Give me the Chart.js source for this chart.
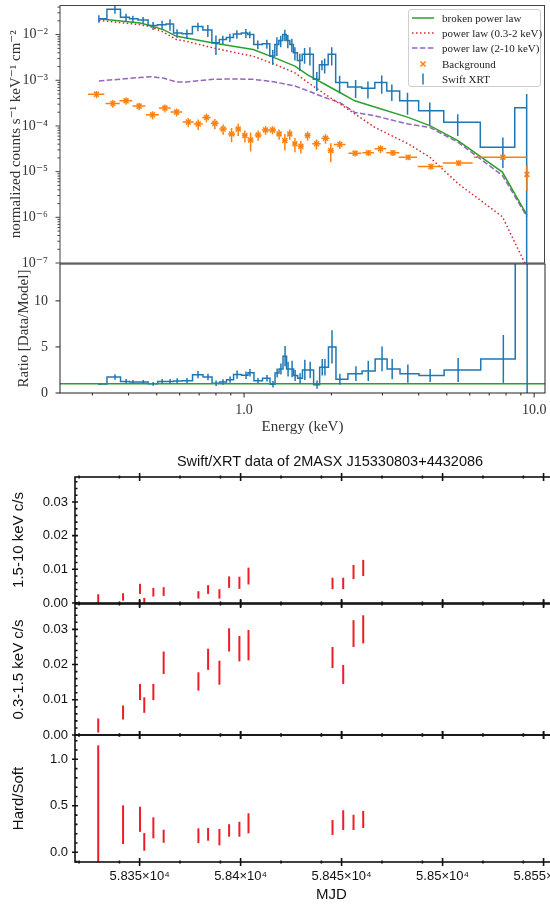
<!DOCTYPE html>
<html>
<head>
<meta charset="utf-8">
<script src="https://cdn.jsdelivr.net/npm/chart.js@4.4.1/dist/chart.umd.min.js"></script>
<style>
html, body { margin: 0; padding: 0; background: #fff; overflow: hidden; }
body { width: 550px; height: 908px; position: relative; }
canvas { position: absolute; }
#legend {
    position: absolute; left: 408px; top: 9px; width: 133px; height: 78px;
    border: 1px solid #cfcfcf; border-radius: 3px; background: rgba(255,255,255,0.85);
    font: 11px "Liberation Serif", "DejaVu Serif", serif; color: #222; box-sizing: border-box;
}
#legend .row { height: 15.3px; display: flex; align-items: center; white-space: nowrap; }
#legend svg { flex: none; }
#lcTitle {
    position: absolute; left: 0; top: 453px; width: 660px; text-align: center;
    font: 14.5px "Liberation Sans", Arial, sans-serif; color: #111;
}
</style>
</head>
<body>
<canvas id="spec" width="550" height="272" style="left:0;top:0"></canvas>
<canvas id="ratio" width="550" height="190" style="left:0;top:256px"></canvas>
<div id="legend"></div>
<div id="lcTitle">Swift/XRT data of 2MASX J15330803+4432086</div>
<canvas id="lc1" width="600" height="140" style="left:0;top:470px"></canvas>
<canvas id="lc2" width="600" height="145" style="left:0;top:597px"></canvas>
<canvas id="lc3" width="600" height="180" style="left:0;top:728px"></canvas>
<script>
// ---- spectrum (Swift XRT) ----
const xrtEnergy = [0.316, 0.359, 0.392, 0.414, 0.449, 0.486, 0.522, 0.556, 0.588, 0.636,
    0.694, 0.751, 0.801, 0.846, 0.895, 0.946, 1.016, 1.048, 1.117, 1.20,
    1.258, 1.30, 1.34, 1.385, 1.418, 1.464, 1.50, 1.56, 1.62, 1.69,
    1.785, 1.86, 1.90, 2.01, 2.14, 2.43, 2.68, 2.99, 3.24, 3.67,
    4.38, 5.47, 7.83, 9.46];
const xrtFlux = [0.0223, 0.036, 0.0241, 0.0223, 0.0208, 0.0158, 0.0165, 0.0170, 0.0108, 0.0105,
    0.015, 0.0126, 0.0066, 0.0078, 0.0087, 0.0103, 0.0108, 0.0100, 0.0061, 0.0063,
    0.0034, 0.0061, 0.0074, 0.0100, 0.0074, 0.0061, 0.0040, 0.0027, 0.0037, 0.0037,
    0.00105, 0.0022, 0.0022, 0.0037, 0.00089, 0.00071, 0.00067, 0.00089, 0.00058, 0.000355,
    0.000215, 0.00012, 0.000034, 0.00025];
const xrtErr = [0.0042, 0.0073, 0.0046, 0.0036, 0.0034, 0.0031, 0.0035, 0.0048, 0.0023, 0.0024,
    0.0031, 0.0037, 0.003, 0.0016, 0.0018, 0.0022, 0.0025, 0.0017, 0.0013, 0.0014,
    0.0012, 0.0027, 0.0021, 0.0028, 0.0024, 0.002, 0.0013, 0.0011, 0.0014, 0.0016,
    0.00047, 0.00055, 0.0008, 0.0016, 0.00037, 0.0003, 0.00027, 0.00038, 0.00023, 0.00018,
    0.00011, 0.00006, 0.000022, 0.00025];
const ratioVal = [0.98, 1.74, 1.26, 1.2, 1.2, 1.0, 1.26, 1.26, 1.3, 1.34,
    1.99, 1.74, 1.05, 1.2, 1.45, 2.0, 1.93, 2.2, 1.34, 1.6,
    0.95, 2.17, 2.6, 4.0, 2.6, 2.6, 1.9, 1.6, 2.5, 2.5,
    0.9, 2.8, 2.8, 5.0, 1.5, 2.1, 2.4, 3.7, 2.6, 2.1,
    1.9, 2.5, 3.7, 230];
const ratioErr = [0.1, 0.3, 0.25, 0.2, 0.2, 0.2, 0.25, 0.25, 0.3, 0.3,
    0.4, 0.35, 0.3, 0.3, 0.35, 0.45, 0.4, 0.4, 0.3, 0.35,
    0.35, 0.5, 0.6, 1.1, 0.8, 0.9, 0.6, 0.55, 1.1, 0.9,
    0.45, 0.9, 0.9, 1.8, 0.6, 0.8, 1.1, 1.35, 1.1, 1.0,
    0.7, 1.3, 2.6, 230];

const bgEnergy = [0.31, 0.353, 0.392, 0.435, 0.484, 0.534, 0.586, 0.643, 0.696, 0.743,
    0.794, 0.848, 0.907, 0.956, 1.008, 1.055, 1.12, 1.188, 1.256, 1.323,
    1.385, 1.44, 1.50, 1.573, 1.659, 1.781, 1.913, 1.995, 2.143, 2.42,
    2.69, 2.96, 3.27, 3.69, 4.42, 5.51, 7.83, 9.48];
const bgFlux = [4.96e-4, 3.10e-4, 3.55e-4, 2.72e-4, 1.76e-4, 2.46e-4, 2.01e-4, 1.22e-4, 1.10e-4, 1.54e-4,
    1.14e-4, 8.6e-5, 6.7e-5, 8.6e-5, 6.15e-5, 4.96e-5, 6.37e-5, 8.2e-5, 8.2e-5, 6.7e-5,
    4.8e-5, 6.7e-5, 4.07e-5, 3.6e-5, 6.15e-5, 4.07e-5, 5.37e-5, 2.9e-5, 3.92e-5, 2.54e-5,
    2.59e-5, 3.16e-5, 2.59e-5, 2.07e-5, 1.30e-5, 1.54e-5, 2.07e-5, 8.7e-6];
const bgErr = [9e-5, 6e-5, 6.5e-5, 5e-5, 3.5e-5, 5e-5, 4e-5, 2.7e-5, 2.8e-5, 3.4e-5,
    2.9e-5, 2.2e-5, 2.3e-5, 2.6e-5, 1.8e-5, 2.2e-5, 1.6e-5, 1.8e-5, 1.6e-5, 1.7e-5,
    1.9e-5, 1.7e-5, 1.4e-5, 1.1e-5, 1.4e-5, 1e-5, 1.3e-5, 1.3e-5, 8e-6, 4e-6,
    4e-6, 6e-6, 4e-6, 3e-6, 2e-6, 2.3e-6, 2e-6, 5e-6];
const bgWidth = [0.02, 0.02, 0.02, 0.022, 0.025, 0.025, 0.027, 0.028, 0.025, 0.025,
    0.025, 0.025, 0.025, 0.022, 0.022, 0.025, 0.03, 0.035, 0.035, 0.03,
    0.03, 0.03, 0.03, 0.035, 0.04, 0.06, 0.06, 0.05, 0.1, 0.125,
    0.125, 0.135, 0.17, 0.27, 0.44, 0.65, 1.62, 0];

const modelEnergy = [0.316, 0.438, 0.474, 0.527, 0.586, 0.634, 0.784, 0.919, 1.077, 1.279,
    1.50, 1.666, 1.903, 2.143, 2.414, 2.83, 3.69, 4.38, 5.48, 7.80, 9.48];
const modelBroken = [0.0223, 0.0179, 0.0159, 0.01285, 0.00918, 0.00844, 0.00656, 0.00557, 0.00472, 0.0031,
    0.00205, 0.0013, 0.00082, 0.00054, 0.000355, 0.00026, 0.000154, 0.000102, 4.8e-5, 9.8e-6, 1.12e-6];
const modelSoft = [0.0205, 0.0165, 0.0151, 0.0114, 0.00779, 0.00715, 0.00511, 0.00412, 0.00337, 0.00223,
    0.00146, 0.000887, 0.0005, 0.000305, 0.000185, 9.3e-5, 4.07e-5, 2.07e-5, 5.5e-6, 1.03e-6, 8e-8];
const modelHard = [0.000966, 0.00115, 0.0012, 0.00112, 0.000919, 0.000919, 0.00105, 0.00107, 0.00105, 0.000919,
    0.000752, 0.000585, 0.000419, 0.000326, 0.000198, 0.000167, 0.00011, 9.3e-5, 4.4e-5, 8.3e-6, 1.03e-6];

const specYTicks = [1e-7, 1e-6, 1e-5, 1e-4, 1e-3, 1e-2];
const specYTickLabels = ['10\u207B\u2077', '10\u207B\u2076', '10\u207B\u2075', '10\u207B\u2074', '10\u207B\u00B3', '10\u207B\u00B2'];
const energyTicks = [1, 10];
const energyTickLabels = ['1.0', '10.0'];
const ratioTicks = [0, 5, 10];
const ratioTickLabels = ['0', '5', '10'];

// ---- light curves ----
const mjd = [58329.5, 58341.8, 58350.2, 58352.3, 58356.8, 58361.9, 58379.1, 58383.9,
    58389.5, 58394.3, 58399.4, 58403.9, 58445.5, 58450.8, 58455.9, 58460.7];
const hardRate = [0.0013, 0.0018, 0.0042, 0.0007, 0.0032, 0.0034, 0.0024, 0.0040,
    0.0027, 0.0062, 0.0060, 0.0080, 0.0058, 0.0058, 0.0092, 0.0104];
const hardErr = [0.0013, 0.0011, 0.0015, 0.0008, 0.0013, 0.0013, 0.0011, 0.0013,
    0.0014, 0.0017, 0.0018, 0.0025, 0.0017, 0.0017, 0.0021, 0.0024];
const softRate = [0.0027, 0.0064, 0.0122, 0.0085, 0.0122, 0.0205, 0.0152, 0.0215,
    0.0177, 0.0270, 0.0245, 0.0255, 0.0220, 0.0172, 0.0288, 0.0300];
const softErr = [0.0020, 0.0020, 0.0023, 0.0022, 0.0023, 0.0032, 0.0026, 0.0030,
    0.0034, 0.0033, 0.0036, 0.0043, 0.0030, 0.0027, 0.0038, 0.0040];
const hardSoft = [0.48, 0.297, 0.355, 0.112, 0.263, 0.173, 0.178, 0.193,
    0.163, 0.235, 0.248, 0.312, 0.267, 0.346, 0.322, 0.353];
const hardSoftErr = [0.67, 0.208, 0.135, 0.095, 0.113, 0.07, 0.08, 0.068,
    0.088, 0.067, 0.08, 0.108, 0.08, 0.106, 0.082, 0.092];

const mjdTicks = [58350, 58400, 58450, 58500, 58550];
const mjdTickLabels = ['5.835\u00D710\u2074', '5.84\u00D710\u2074', '5.845\u00D710\u2074', '5.85\u00D710\u2074', '5.855\u00D710\u2074'];
const mjdMinor = [58320, 58340, 58370, 58390, 58420, 58440, 58470, 58490, 58520, 58540, 58570];
const rateTicks = [0, 0.01, 0.02, 0.03];
const rateTickLabels = ['0.00', '0.01', '0.02', '0.03'];
const hsTicks = [0, 0.5, 1.0];
const hsTickLabels = ['0.0', '0.5', '1.0'];

const SERIF = '"Liberation Serif", "DejaVu Serif", serif';
const SANS = '"Liberation Sans", Arial, sans-serif';
const BLUE = '#1f77b4', ORANGE = '#ff7f0e', GREEN = '#2ca02c', RED = '#d62728', PURPLE = '#9467bd';
const LCRED = '#ee1d25';

const specXMin = 0.232, specXMax = 10.9;

function pts(xs, ys) {
    return xs.map((x, i) => ({ x: x, y: ys[i] }));
}

function decadeMinors(lo, hi, max) {
    const out = [];
    for (let d = lo; d <= hi; d++) {
        for (let m = 2; m <= 9; m++) {
            const v = m * Math.pow(10, d);
            if (v <= max) out.push(v);
        }
    }
    return out;
}

function stepMinors(lo, hi, step, skip) {
    const out = [];
    for (let v = lo; v <= hi + 1e-9; v += step) {
        if (!skip.some(s => Math.abs(s - v) < step / 10)) out.push(v);
    }
    return out;
}

// fixed axis boxes, no automatic label padding
function fitWidth(w) {
    return s => { s.width = w; s.paddingTop = 0; s.paddingBottom = 0; };
}
function fitHeight(h) {
    return s => { s.height = h; s.paddingLeft = 0; s.paddingRight = 0; };
}
const noGrid = { display: false, drawTicks: false };

// error bars drawn through the chart's own scales
const errorBars = {
    id: 'errorBars',
    afterDatasetsDraw(chart) {
        const ctx = chart.ctx;
        const a = chart.chartArea;
        const xs = chart.scales.x;
        const ys = chart.scales.y;

        ctx.save();
        ctx.beginPath();
        ctx.rect(a.left, a.top, a.right - a.left, a.bottom - a.top);
        ctx.clip();

        chart.data.datasets.forEach(ds => {
            if (!ds.errY && !ds.errX) return;
            ctx.strokeStyle = ds.errColor || ds.borderColor;
            ctx.lineWidth = ds.errWidth || 1.5;

            ds.data.forEach((p, i) => {
                const cx = xs.getPixelForValue(p.x);
                const cy = ys.getPixelForValue(p.y);
                ctx.beginPath();
                if (ds.errY) {
                    const e = ds.errY[i];
                    const lo = p.y - e;
                    const yLo = (ys.type === 'logarithmic' && lo <= 0)
                        ? a.bottom + 20
                        : ys.getPixelForValue(lo);
                    ctx.moveTo(cx, ys.getPixelForValue(p.y + e));
                    ctx.lineTo(cx, yLo);
                }
                if (ds.errX && ds.errX[i] > 0) {
                    ctx.moveTo(xs.getPixelForValue(p.x - ds.errX[i]), cy);
                    ctx.lineTo(xs.getPixelForValue(p.x + ds.errX[i]), cy);
                }
                ctx.stroke();
            });
        });
        ctx.restore();
    }
};

// box and tick marks
const frame = {
    id: 'frame',
    afterDraw(chart, args, o) {
        const ctx = chart.ctx;
        const a = chart.chartArea;
        ctx.save();
        ctx.strokeStyle = o.color;
        ctx.lineWidth = o.width;
        ctx.strokeRect(a.left, a.top, a.right - a.left, a.bottom - a.top);

        ctx.lineWidth = o.tickWidth || o.width;
        ctx.beginPath();
        (o.xTicks || []).forEach(t => {
            (t.sides || ['bottom']).forEach(side => {
                const y = side === 'bottom' ? a.bottom : a.top;
                t.values.forEach(v => {
                    const x = chart.scales.x.getPixelForValue(v);
                    if (x < a.left - 0.5 || x > a.right + 0.5) return;
                    if (t.mode === 'cross') {
                        ctx.moveTo(x, y - t.len); ctx.lineTo(x, y + t.len);
                    } else {
                        ctx.moveTo(x, y); ctx.lineTo(x, y + t.len);
                    }
                });
            });
        });
        (o.yTicks || []).forEach(t => {
            t.values.forEach(v => {
                const y = chart.scales.y.getPixelForValue(v);
                if (y < a.top - 0.5 || y > a.bottom + 0.5) return;
                const x = a.left;
                if (t.mode === 'cross') {
                    ctx.moveTo(x - t.len, y); ctx.lineTo(x + t.len, y);
                } else if (t.mode === 'in') {
                    ctx.moveTo(x, y); ctx.lineTo(x + t.len, y);
                } else {
                    ctx.moveTo(x - t.len, y); ctx.lineTo(x, y);
                }
            });
        });
        ctx.stroke();
        ctx.restore();
    }
};

const baseOptions = {
    responsive: false,
    animation: false,
    events: [],
    plugins: { legend: { display: false }, tooltip: { enabled: false } }
};

// ---------- top spectrum ----------
const specDatasets = [
    {
        label: 'Swift XRT', data: pts(xrtEnergy, xrtFlux), borderColor: BLUE, borderWidth: 1.5,
        stepped: 'middle', pointRadius: 0, errY: xrtErr, order: 0
    },
    {
        label: 'Background', data: pts(bgEnergy, bgFlux), showLine: false, borderColor: ORANGE,
        pointStyle: 'crossRot', pointRadius: 3.5, pointBorderWidth: 1.5, pointBorderColor: ORANGE,
        errY: bgErr, errX: bgWidth, order: 1
    },
    {
        label: 'broken power law', data: pts(modelEnergy, modelBroken), borderColor: GREEN,
        borderWidth: 1.5, pointRadius: 0, order: 2
    },
    {
        label: 'power law (0.3-2 keV)', data: pts(modelEnergy, modelSoft), borderColor: RED,
        borderWidth: 1.5, borderDash: [1.5, 2.5], pointRadius: 0, order: 3
    },
    {
        label: 'power law (2-10 keV)', data: pts(modelEnergy, modelHard), borderColor: PURPLE,
        borderWidth: 1.5, borderDash: [5.5, 2.4], pointRadius: 0, order: 4
    }
];

new Chart(document.getElementById('spec'), {
    type: 'line',
    data: { datasets: specDatasets },
    options: {
        ...baseOptions,
        layout: { padding: { top: 4, right: 5, bottom: 9, left: 0 } },
        scales: {
            x: { type: 'logarithmic', min: specXMin, max: specXMax, display: false },
            y: {
                type: 'logarithmic', min: 1e-7, max: 0.0434,
                afterFit: fitWidth(60),
                afterBuildTicks: s => { s.ticks = specYTicks.map(v => ({ value: v })); },
                grid: noGrid, border: { display: false },
                ticks: {
                    callback: (v, i) => specYTickLabels[i], autoSkip: false,
                    font: { family: SERIF, size: 14 }, color: '#333', padding: 12
                },
                title: {
                    display: true, text: 'normalized counts s\u207B\u00B9 keV\u207B\u00B9 cm\u207B\u00B2',
                    font: { family: SERIF, size: 15 }, color: '#333', padding: { top: 7, bottom: 0 }
                }
            }
        },
        plugins: {
            ...baseOptions.plugins,
            frame: {
                color: '#444', width: 1,
                yTicks: [
                    { values: specYTicks, len: 4.5 },
                    { values: decadeMinors(-7, -2, 0.0434), len: 2.5 }
                ]
            }
        }
    },
    plugins: [errorBars, frame]
});

// ---------- ratio panel ----------
new Chart(document.getElementById('ratio'), {
    type: 'line',
    data: {
        datasets: [
            {
                label: 'unity', data: [{ x: specXMin, y: 1 }, { x: specXMax, y: 1 }],
                borderColor: GREEN, borderWidth: 1.5, pointRadius: 0, order: 0
            },
            {
                label: 'ratio', data: pts(xrtEnergy, ratioVal), borderColor: BLUE, borderWidth: 1.5,
                stepped: 'middle', pointRadius: 0, errY: ratioErr, order: 1
            }
        ]
    },
    options: {
        ...baseOptions,
        layout: { padding: { top: 8, right: 5, bottom: 0, left: 0 } },
        scales: {
            x: {
                type: 'logarithmic', min: specXMin, max: specXMax,
                afterFit: fitHeight(53),
                afterBuildTicks: s => { s.ticks = energyTicks.map(v => ({ value: v })); },
                grid: noGrid, border: { display: false },
                ticks: {
                    callback: (v, i) => energyTickLabels[i], autoSkip: false, maxRotation: 0,
                    font: { family: SERIF, size: 14 }, color: '#333', padding: 9
                },
                title: {
                    display: true, text: 'Energy (keV)', font: { family: SERIF, size: 15 },
                    color: '#333', padding: { top: 0, bottom: 10 }
                }
            },
            y: {
                type: 'linear', min: 0, max: 14,
                afterFit: fitWidth(60),
                afterBuildTicks: s => { s.ticks = ratioTicks.map(v => ({ value: v })); },
                grid: noGrid, border: { display: false },
                ticks: {
                    callback: (v, i) => ratioTickLabels[i], autoSkip: false,
                    font: { family: SERIF, size: 14 }, color: '#333', padding: 12
                },
                title: {
                    display: true, text: 'Ratio [Data/Model]', font: { family: SERIF, size: 15 },
                    color: '#333', padding: { top: 15, bottom: 0 }
                }
            }
        },
        plugins: {
            ...baseOptions.plugins,
            frame: {
                color: '#222', width: 1,
                xTicks: [
                    { values: energyTicks, len: 4.5 },
                    { values: decadeMinors(-1, 0, 10).filter(v => v >= 0.25), len: 2.5 }
                ],
                yTicks: [{ values: ratioTicks, len: 4.5 }]
            }
        }
    },
    plugins: [errorBars, frame]
});

// legend (html text)
const legendEl = document.getElementById('legend');
const legendItems = [
    { text: specDatasets[2].label, svg: '<line x1="3" y1="7" x2="25" y2="7" stroke="' + GREEN + '" stroke-width="1.5"/>' },
    { text: specDatasets[3].label, svg: '<line x1="3" y1="7" x2="25" y2="7" stroke="' + RED + '" stroke-width="1.5" stroke-dasharray="1.5 2.5"/>' },
    { text: specDatasets[4].label, svg: '<line x1="3" y1="7" x2="25" y2="7" stroke="' + PURPLE + '" stroke-width="1.5" stroke-dasharray="5.5 2.4"/>' },
    { text: specDatasets[1].label, svg: '<path d="M11.5 4.5 L16.5 9.5 M16.5 4.5 L11.5 9.5" stroke="' + ORANGE + '" stroke-width="1.5"/>' },
    { text: specDatasets[0].label, svg: '<line x1="14" y1="1.5" x2="14" y2="12.5" stroke="' + BLUE + '" stroke-width="1.5"/>' }
];
legendItems.forEach(item => {
    const row = document.createElement('div');
    row.className = 'row';
    row.innerHTML = '<svg width="33" height="14" viewBox="0 0 33 14">' + item.svg + '</svg><span>' + item.text + '</span>';
    legendEl.appendChild(row);
});

// ---------- light curves ----------
function lcChart(id, opts) {
    const showX = opts.showX;
    return new Chart(document.getElementById(id), {
        type: 'line',
        data: {
            datasets: [{
                label: opts.title, data: pts(mjd, opts.values), showLine: false, pointRadius: 0,
                borderColor: LCRED, errY: opts.errors, errColor: LCRED, errWidth: 2
            }]
        },
        options: {
            ...baseOptions,
            layout: { padding: { top: 7, right: 12, bottom: showX ? 0 : 7, left: 0 } },
            scales: {
                x: showX ? {
                    type: 'linear', min: 58318, max: 58572,
                    afterFit: fitHeight(46),
                    afterBuildTicks: s => { s.ticks = mjdTicks.map(v => ({ value: v })); },
                    grid: noGrid, border: { display: false },
                    ticks: {
                        callback: (v, i) => mjdTickLabels[i], autoSkip: false, maxRotation: 0,
                        font: { family: SANS, size: 13 }, color: '#111', padding: 7
                    },
                    title: {
                        display: true, text: 'MJD', font: { family: SANS, size: 15 },
                        color: '#111', padding: { top: 0, bottom: 4 }
                    }
                } : { type: 'linear', min: 58318, max: 58572, display: false },
                y: {
                    type: 'linear', min: opts.min, max: opts.max,
                    afterFit: fitWidth(75),
                    afterBuildTicks: s => { s.ticks = opts.ticks.map(v => ({ value: v })); },
                    grid: noGrid, border: { display: false },
                    ticks: {
                        callback: (v, i) => opts.labels[i], autoSkip: false,
                        font: { family: SANS, size: 13 }, color: '#111', padding: 7
                    },
                    title: {
                        display: true, text: opts.title, font: { family: SANS, size: 15 },
                        color: '#111', padding: { top: 10, bottom: 0 }
                    }
                }
            },
            plugins: {
                ...baseOptions.plugins,
                frame: {
                    color: '#111', width: 1.6, tickWidth: 1.6,
                    xTicks: [
                        { values: mjdTicks, len: 4, mode: 'cross', sides: ['bottom', 'top'] },
                        { values: mjdMinor, len: 1.5, mode: 'cross', sides: ['bottom', 'top'] }
                    ],
                    yTicks: [
                        { values: opts.ticks, len: 3, mode: 'cross' },
                        { values: opts.minor, len: 2.5, mode: 'in' }
                    ]
                }
            }
        },
        plugins: [errorBars, frame]
    });
}

lcChart('lc1', {
    title: '1.5-10 keV c/s', values: hardRate, errors: hardErr, min: 0, max: 0.0374,
    ticks: rateTicks, labels: rateTickLabels, minor: stepMinors(0, 0.036, 0.002, rateTicks)
});
lcChart('lc2', {
    title: '0.3-1.5 keV c/s', values: softRate, errors: softErr, min: 0, max: 0.0372,
    ticks: rateTicks, labels: rateTickLabels, minor: stepMinors(0, 0.036, 0.002, rateTicks)
});
lcChart('lc3', {
    title: 'Hard/Soft', values: hardSoft, errors: hardSoftErr, min: -0.104, max: 1.261,
    ticks: hsTicks, labels: hsTickLabels, minor: stepMinors(-0.1, 1.2, 0.1, hsTicks), showX: true
});
</script>
</body>
</html>
